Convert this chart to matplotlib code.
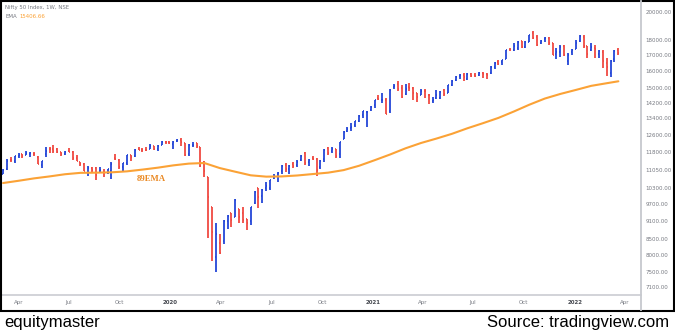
import matplotlib
matplotlib.use('Agg')
import matplotlib.pyplot as plt
import matplotlib.dates as mdates
from matplotlib.lines import Line2D
from matplotlib.patches import Rectangle
from matplotlib.ticker import NullLocator
import numpy as np
import pandas as pd

plt.rcParams['font.family'] = ['DejaVu Sans']

UP = '#2447d8'
DOWN = '#f04a42'
EMA_COLOR = '#fba236'
LINE_GRAY = '#c6c8ce'
TEXT_GRAY = '#767981'

################################################
# Data: Nifty 50 weekly bars, week of 4 Mar 2019 .. week of 21 Mar 2022
################################################

first_week = '2019-03-04'

opens = [
    # 2019
    10864, 11065, 11457, 11396,
    11625, 11704, 11690, 11727, 11725,
    11605, 11260, 11725, 11925,
    11953, 11918, 11790, 11725,
    11839, 11811, 11563, 11389, 11292,
    10895, 11113, 11095, 11000,
    10960, 10928, 11000, 11543, 11474,
    11137, 11312, 11657, 11628,
    11929, 11908, 11915, 11949,
    12066, 11939, 12132, 12275, 12274,
    # 2020
    12170, 12297, 12330, 12197,
    11708, 12102, 12190, 12013,
    11387, 10743, 9587, 7946, 8385,
    8446, 9103, 9391, 9259,
    9533, 9377, 9158, 9099,
    9726, 10326, 10019, 10319, 10312,
    10723, 10851, 10999, 11225,
    11057, 11270, 11248, 11437, 11777,
    11359, 11540, 11504, 11164,
    11487, 11973, 11839, 11937,
    11697, 12399, 12780, 12906, 13062,
    13265, 13571, 13741, 13815,
    # 2021
    14104, 14474, 14371, 14365,
    13758, 15064, 15270, 14999,
    14702, 15064, 15049, 14737, 14628,
    14837, 14644, 14306, 14449,
    14481, 14928, 14756, 15211, 15484,
    15725, 15791, 15525, 15838,
    15793, 15766, 15923, 15842,
    15874, 16288, 16565, 16592, 16775,
    17400, 17363, 17443, 17932,
    17531, 17867, 18500, 18229,
    17783, 18041, 18141, 17796, 17051,
    17209, 17619, 16625, 17177,
    # 2022
    17387, 17913, 18235, 17575, 17301,
    17456, 17076, 17192, 16515,
    15868, 16757, 17329,
]

highs = [
    11069, 11487, 11572, 11630,
    11761, 11710, 11856, 11804, 11790,
    11632, 11426, 12041, 12039,
    12103, 11975, 11815, 11871,
    11981, 11836, 11670, 11390, 11307,
    11182, 11145, 11146, 11142,
    11060, 11084, 11382, 11695, 11504,
    11318, 11669, 11680, 11945,
    12034, 11973, 12038, 12158,
    12095, 12098, 12294, 12287, 12293,
    12311, 12389, 12430, 12216,
    12161, 12247, 12226, 12013,
    11433, 10751, 9602, 9038, 8678,
    9131, 9324, 9392, 9889,
    9533, 9584, 9178, 9598,
    10177, 10328, 10272, 10553, 10631,
    10848, 10934, 11240, 11341,
    11256, 11374, 11460, 11686, 11794,
    11493, 11618, 11535, 11465,
    11939, 12025, 12018, 11943,
    12280, 12769, 12963, 13145, 13280,
    13579, 13773, 13777, 14024,
    14367, 14654, 14754, 14491,
    14938, 15257, 15431, 15176,
    15274, 15336, 15092, 14753, 14984,
    14984, 14697, 14527, 14890,
    14863, 14967, 15189, 15469, 15733,
    15835, 15901, 15895, 15915,
    15915, 15952, 15962, 15882,
    16349, 16543, 16702, 16722, 17340,
    17429, 17793, 17947, 17948,
    17948, 18351, 18604, 18310,
    18012, 18210, 18210, 17805, 17489,
    17640, 17639, 17118, 17401,
    18000, 18350, 18351, 17599, 17794,
    17640, 17351, 17351, 16815,
    16694, 17344, 17442,
]

lows = [
    10864, 11050, 11390, 11311,
    11549, 11549, 11660, 11578, 11650,
    11275, 11108, 11591, 11770,
    11769, 11769, 11625, 11651,
    11799, 11461, 11399, 11211, 10975,
    10782, 10908, 10637, 10923,
    10747, 10880, 10671, 11449, 11090,
    10948, 11234, 11400, 11570,
    11889, 11802, 11856, 11920,
    11887, 11832, 12102, 12146, 12150,
    11929, 12281, 12087, 11633,
    11614, 12010, 12003, 11175,
    10751, 8555, 7832, 7511, 8055,
    8360, 8821, 8909, 9250,
    9043, 9050, 8806, 8968,
    9706, 9544, 9726, 10194, 10223,
    10676, 10562, 10886, 10951,
    10882, 11111, 11144, 11391, 11250,
    11185, 11442, 10790, 11081,
    11386, 11661, 11775, 11535,
    11557, 12391, 12730, 12790, 12962,
    13240, 13423, 12963, 13774,
    13954, 14357, 14223, 13597,
    13662, 14977, 14855, 14468,
    14638, 14863, 14350, 14264, 14618,
    14459, 14151, 14208, 14416,
    14416, 14591, 14725, 15134, 15450,
    15566, 15450, 15506, 15635,
    15632, 15707, 15578, 15513,
    15834, 16162, 16395, 16395, 16765,
    17255, 17270, 17327, 17452,
    17452, 17864, 18034, 17613,
    17698, 17837, 17688, 16982, 16782,
    16891, 16966, 16410, 17004,
    17384, 17880, 17485, 16837, 17244,
    16810, 16843, 16203, 15711,
    15671, 16555, 17006,
]

closes = [
    11035, 11427, 11456, 11624,
    11665, 11643, 11752, 11755, 11712,
    11279, 11407, 11844, 11922,
    11871, 11823, 11724, 11788,
    11811, 11552, 11419, 11284, 10997,
    11109, 11047, 10829, 11023,
    10946, 11076, 11274, 11512, 11174,
    11305, 11662, 11583, 11890,
    11908, 11895, 11914, 12056,
    11921, 12086, 12271, 12245, 12226,
    12256, 12352, 12248, 11662,
    12098, 12113, 12080, 11202,
    10989, 9955, 8745, 8660, 8084,
    9112, 9267, 9154, 9860,
    9251, 9137, 9039, 9580,
    10142, 9972, 10244, 10383, 10607,
    10768, 10902, 11194, 11073,
    11214, 11178, 11371, 11647, 11333,
    11464, 11505, 11050, 11417,
    11914, 11762, 11930, 11642,
    12264, 12720, 12859, 12969, 13258,
    13514, 13761, 13749, 13982,
    14347, 14434, 14372, 13635,
    14924, 15163, 14982, 14529,
    14938, 15031, 14744, 14507, 14867,
    14835, 14617, 14341, 14631,
    14823, 14677, 15175, 15436, 15670,
    15799, 15683, 15860, 15722,
    15690, 15924, 15856, 15763,
    16238, 16529, 16450, 16705, 17323,
    17369, 17585, 17853, 17532,
    17895, 18338, 18115, 17671,
    17917, 18102, 17765, 17026, 17197,
    17511, 16985, 17004, 17354,
    17812, 18256, 17617, 17102, 17516,
    17375, 17276, 16658, 16246,
    16630, 17287, 17153,
]

# 89-week EMA, sampled every fourth bar plus the last one
ema_bars = [0, 4, 8, 12, 16, 20, 24, 28, 32, 36, 40, 44, 48, 52, 56, 60, 64,
            68, 72, 76, 80, 84, 88, 92, 96, 100, 104, 108, 112, 116, 120, 124,
            128, 132, 136, 140, 144, 148, 152, 156, 159]
ema_values = [10504, 10593, 10689, 10768, 10857, 10914, 10921, 10935, 10976,
              11048, 11129, 11226, 11300, 11325, 11112, 10960, 10813, 10759,
              10768, 10806, 10864, 10922, 11027, 11209, 11445, 11694, 11970,
              12212, 12418, 12642, 12909, 13157, 13422, 13750, 14107, 14437,
              14689, 14912, 15145, 15295, 15407]
ema_last = '15406.66'

price_ticks = [7100, 7500, 8000, 8500, 9100, 9700, 10300, 11050, 11800, 12600,
               13400, 14200, 15000, 16000, 17000, 18000, 20000]
date_ticks = ['2019-04-01', '2019-07-01', '2019-10-01', '2020-01-01',
              '2020-04-01', '2020-07-01', '2020-10-01', '2021-01-01',
              '2021-04-01', '2021-07-01', '2021-10-01', '2022-01-01',
              '2022-04-01']
date_labels = ['Apr', 'Jul', 'Oct', '2020', 'Apr', 'Jul', 'Oct', '2021',
               'Apr', 'Jul', 'Oct', '2022', 'Apr']

################################################
# Plot
################################################

W, H = 675, 333
fig = plt.figure(figsize=(W / 100, H / 100), dpi=100)
fig.patch.set_facecolor('white')


def fx(px):
    return px / W


def fy(py):
    return 1 - py / H


ax = fig.add_axes([fx(2), fy(295), fx(639), 293 / H])

weeks = pd.date_range(first_week, periods=len(closes), freq='7D')
x = mdates.date2num(weeks)
o = np.array(opens)
c = np.array(closes)
colors = np.where(c >= o, UP, DOWN)

lw = 1.3
ax.vlines(x, lows, highs, colors=colors, lw=lw)
ax.hlines(opens, x - 1.8, x, colors=colors, lw=lw)
ax.hlines(closes, x, x + 1.8, colors=colors, lw=lw)

ax.plot(x[ema_bars], ema_values, color=EMA_COLOR, lw=1.5, solid_capstyle='round')

ax.set_yscale('log')
ax.set_ylim(6890, 20767)
ax.set_xlim(mdates.datestr2num('2019-03-02'), mdates.datestr2num('2022-05-01'))

ax.yaxis.set_minor_locator(NullLocator())
ax.set_yticks(price_ticks)
ax.set_yticklabels([f'{v:.2f}' for v in price_ticks])
ax.yaxis.tick_right()
ax.tick_params(axis='y', length=0, pad=3.2, labelsize=4.0, labelcolor=TEXT_GRAY)

ax.set_xticks(mdates.datestr2num(date_ticks))
ax.set_xticklabels(date_labels)
ax.tick_params(axis='x', length=0, pad=3.6, labelsize=4.0, labelcolor=TEXT_GRAY)
for lab in ax.get_xticklabels():
    if lab.get_text().isdigit():
        lab.set_color('#45484f')
        lab.set_fontweight('bold')

for s in ['top', 'left', 'right']:
    ax.spines[s].set_visible(False)
ax.spines['bottom'].set_color(LINE_GRAY)
ax.spines['bottom'].set_linewidth(1.1)

# price scale separator
fig.add_artist(Line2D([fx(641), fx(641)], [fy(1), fy(310)], color=LINE_GRAY, lw=1.3))

# header
fig.text(fx(5), fy(8), 'Nifty 50 Index, 1W, NSE', fontsize=3.9, color=TEXT_GRAY, va='center')
fig.text(fx(5), fy(17), 'EMA', fontsize=3.9, color=TEXT_GRAY, va='center')
fig.text(fx(19), fy(17), ema_last, fontsize=3.9, color=EMA_COLOR, va='center')

fig.text(fx(151), fy(179), '89EMA', fontsize=6.3, color='#ea8a25', fontweight='bold',
         family='Liberation Serif', ha='center', va='center')

# frame and footer
fig.add_artist(Rectangle((fx(0.8), fy(311)), fx(673.4), 310 / H, transform=fig.transFigure,
                         fill=False, edgecolor='black', lw=1.5))
fig.text(fx(4), fy(322), 'equitymaster', fontsize=12, family='Liberation Sans',
         color='black', va='center')
fig.text(fx(669), fy(322), 'Source: tradingview.com', fontsize=12, family='Liberation Sans',
         color='black', va='center', ha='right')

fig.savefig('out.png', dpi=100)
